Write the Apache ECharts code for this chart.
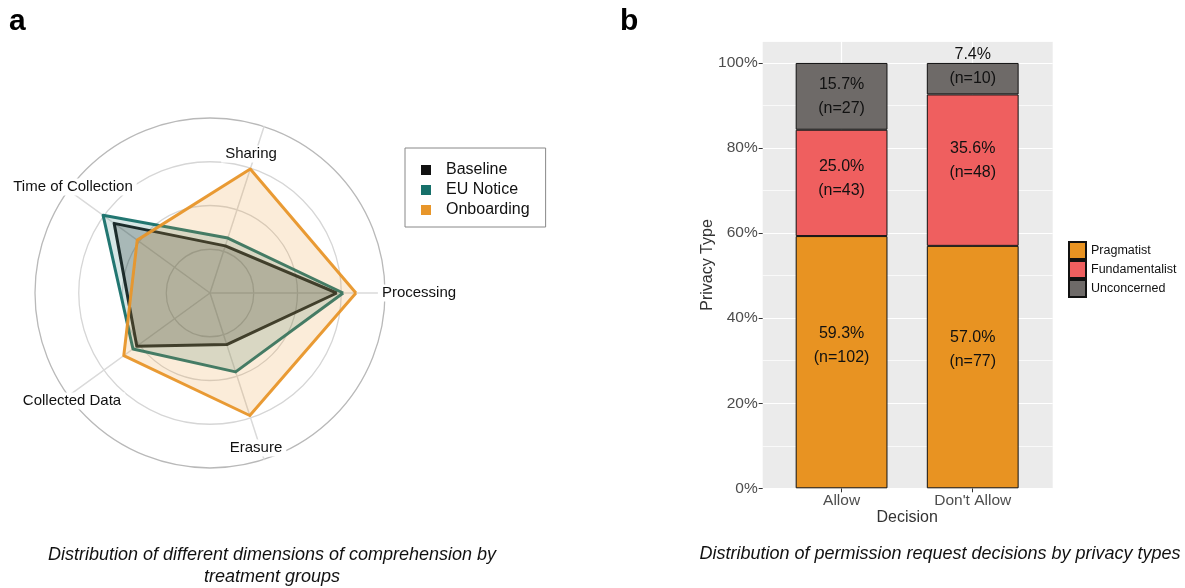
<!DOCTYPE html>
<html>
<head>
<meta charset="utf-8">
<script src="https://cdn.jsdelivr.net/npm/echarts@6/dist/echarts.min.js"></script>
<style>html,body{margin:0;padding:0;background:#fff}#c{width:1185px;height:588px}</style>
</head>
<body>
<div id="c"></div>
<script>
// ---------- Panel a data (radar) ----------
const dimensions = ['Processing', 'Sharing', 'Time of Collection', 'Collected Data', 'Erasure'];
const groups = ['Baseline', 'EU Notice', 'Onboarding'];
const baseline   = [0.725, 0.283, 0.677, 0.517, 0.310];
const euNotice   = [0.761, 0.330, 0.755, 0.544, 0.474];
const onboarding = [0.834, 0.745, 0.514, 0.609, 0.736];

// ---------- Panel b data (stacked bars) ----------
const decisions = ['Allow', "Don't Allow"];
const privacyTypes = ['Pragmatist', 'Fundamentalist', 'Unconcerned'];
const pragmatistPct     = [59.3, 57.0];
const fundamentalistPct = [25.0, 35.6];
const unconcernedPct    = [15.7, 7.4];
const pragmatistN     = [102, 77];
const fundamentalistN = [43, 48];
const unconcernedN    = [27, 10];
const yTicks = [0, 20, 40, 60, 80, 100];

// ---------- styles ----------
const FONT = '"Liberation Sans", Arial, Helvetica, sans-serif';
const radarColors = { 'Baseline': '#111111', 'EU Notice': '#17706A', 'Onboarding': '#E8962A' };
const radarLine = { 'Baseline': 'rgba(15,15,15,0.92)', 'EU Notice': 'rgba(23,112,106,0.95)', 'Onboarding': 'rgba(232,150,42,0.95)' };
const radarFill = { 'Baseline': 'rgba(0,0,0,0.32)', 'EU Notice': 'rgba(23,112,106,0.25)', 'Onboarding': 'rgba(232,150,42,0.25)' };
const barColors = { 'Pragmatist': '#E89322', 'Fundamentalist': '#EF5F5F', 'Unconcerned': '#6E6A68' };
// label vertical nudges in px (style only)
const labelNudge = { 'Pragmatist': [-17, -17], 'Fundamentalist': [-4, -10], 'Unconcerned': [0, -12] };
// radar layout
const radarCenter = [210, 293];
const radarRadius = 175;
const radarLabelPos = {
  'Processing': [419, 293],
  'Sharing': [251, 154],
  'Time of Collection': [73, 187],
  'Collected Data': [72, 401],
  'Erasure': [256, 448]
};

const radarSeriesData = [
  { name: 'Baseline', value: baseline },
  { name: 'EU Notice', value: euNotice },
  { name: 'Onboarding', value: onboarding }
].map(d => ({
  name: d.name, value: d.value, symbol: 'none',
  itemStyle: { color: radarColors[d.name] },
  lineStyle: { color: radarLine[d.name], width: 3 },
  areaStyle: { color: radarFill[d.name] }
}));

function barSeries(name, pct, n) {
  return {
    name: name, type: 'bar', xAxisIndex: 1, yAxisIndex: 1, stack: 'total', barWidth: '70%',
    data: pct.map((v, i) => ({ value: v, label: { offset: [0, labelNudge[name][i]] } })),
    itemStyle: { color: barColors[name], borderColor: '#111', borderWidth: 1 },
    label: {
      show: true, position: 'inside', color: '#111', fontSize: 16, lineHeight: 24, fontFamily: FONT,
      formatter: p => pct[p.dataIndex].toFixed(1) + '%\n(n=' + n[p.dataIndex] + ')'
    },
    z: 3
  };
}

const labelGraphics = dimensions.map(d => ({
  type: 'text', x: radarLabelPos[d][0], y: radarLabelPos[d][1], z: 100,
  style: {
    text: d, fill: '#111', font: '15px ' + FONT, textAlign: 'center', textVerticalAlign: 'middle',
    backgroundColor: '#fff', padding: [1, 4]
  }
}));

const option = {
  animation: false,
  textStyle: { fontFamily: FONT },
  graphic: labelGraphics.concat([
    { type: 'text', x: 9, y: 22, z: 100, style: { text: 'a', fill: '#000', font: 'bold 30px ' + FONT, textAlign: 'left', textVerticalAlign: 'middle' } },
    { type: 'text', x: 620, y: 22, z: 100, style: { text: 'b', fill: '#000', font: 'bold 30px ' + FONT, textAlign: 'left', textVerticalAlign: 'middle' } },
    { type: 'text', x: 272, y: 566, z: 100, style: { text: 'Distribution of different dimensions of comprehension by\ntreatment groups', fill: '#111', font: 'italic 18px ' + FONT, lineHeight: 22, textAlign: 'center', textVerticalAlign: 'middle' } },
    { type: 'text', x: 940, y: 554, z: 100, style: { text: 'Distribution of permission request decisions by privacy types', fill: '#111', font: 'italic 18px ' + FONT, textAlign: 'center', textVerticalAlign: 'middle' } }
  ]),
  legend: [
    {
      data: groups, orient: 'vertical', left: 405, top: 148, icon: 'rect',
      itemWidth: 10, itemHeight: 10, itemGap: 4, padding: [14, 16, 9, 16],
      borderColor: '#888', borderWidth: 1, selectedMode: false,
      textStyle: { fontSize: 16, color: '#111', fontFamily: FONT, padding: [0, 0, 0, 10] }
    },
    {
      data: privacyTypes, orient: 'vertical', left: 1068, top: 241, icon: 'rect',
      itemWidth: 17, itemHeight: 17, itemGap: 0, padding: 0, selectedMode: false,
      textStyle: { fontSize: 12.5, color: '#111', fontFamily: FONT }
    }
  ],
  radar: {
    center: radarCenter, radius: radarRadius, startAngle: 0, shape: 'circle', splitNumber: 4,
    indicator: dimensions.map(d => ({ name: d, min: 0, max: 1 })),
    axisName: { show: false },
    axisLine: { lineStyle: { color: '#dadada', width: 1.5 } },
    splitLine: { lineStyle: { color: ['#d6d6d6', '#d6d6d6', '#d6d6d6', '#d6d6d6', '#b9b9b9'], width: 1.3 } },
    splitArea: { show: false }
  },
  grid: [
    { left: 762.7, right: 132.3, top: 41.7, bottom: 99.7, show: true, backgroundColor: '#EBEBEB', borderWidth: 0, outerBoundsMode: 'none' },
    { left: 776, right: 146.7, top: 41.7, bottom: 99.7, outerBoundsMode: 'none' }
  ],
  xAxis: [
    { gridIndex: 0, type: 'value', min: 0, max: 1, show: false },
    {
      gridIndex: 1, type: 'category', data: decisions,
      axisLine: { show: false },
      axisTick: { show: true, alignWithLabel: true, length: 4, lineStyle: { color: '#333' } },
      axisLabel: { fontSize: 15.5, color: '#4D4D4D', margin: 4, fontFamily: FONT },
      splitLine: { show: false },
      name: 'Decision', nameLocation: 'middle', nameGap: 21, nameMoveOverlap: false,
      nameTextStyle: { fontSize: 16, color: '#333', fontFamily: FONT }
    }
  ],
  yAxis: [
    {
      gridIndex: 0, type: 'value', min: 0, max: 105, interval: 10,
      axisLine: { show: false }, axisTick: { show: false }, axisLabel: { show: false },
      splitLine: { show: true, lineStyle: { color: ['#ffffff', 'rgba(255,255,255,0.7)'], width: 1.2 } }
    },
    {
      gridIndex: 1, type: 'value', min: 0, max: 105, interval: 20, offset: 13.3,
      axisLine: { show: false },
      axisTick: { show: true, length: 4, lineStyle: { color: '#333' }, customValues: yTicks },
      axisLabel: { fontSize: 15.5, color: '#4D4D4D', margin: 5, fontFamily: FONT, customValues: yTicks,
        formatter: v => (v > 100 ? '' : v + '%') },
      splitLine: { show: false },
      name: 'Privacy Type', nameLocation: 'middle', nameGap: 47, nameRotate: 90, nameMoveOverlap: false,
      nameTextStyle: { fontSize: 16, color: '#333', fontFamily: FONT }
    }
  ],
  series: [
    { type: 'radar', radarIndex: 0, data: radarSeriesData, z: 2 },
    Object.assign(barSeries('Pragmatist', pragmatistPct, pragmatistN), {
      markLine: {
        silent: true, symbol: 'none', z: 1, label: { show: false },
        lineStyle: { color: '#ffffff', width: 1.2, type: 'solid' },
        data: decisions.map(d => ({ xAxis: d }))
      }
    }),
    barSeries('Fundamentalist', fundamentalistPct, fundamentalistN),
    barSeries('Unconcerned', unconcernedPct, unconcernedN)
  ]
};

const chart = echarts.init(document.getElementById('c'), null, { renderer: 'canvas' });
chart.setOption(option);
</script>
</body>
</html>
